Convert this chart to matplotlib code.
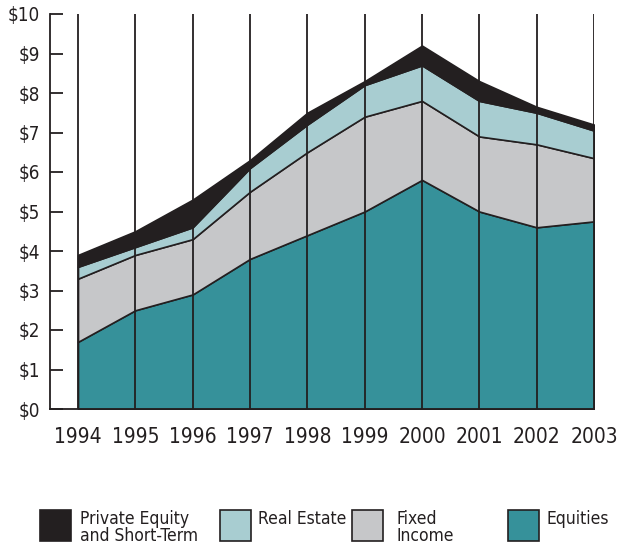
import matplotlib
matplotlib.use("Agg")
import matplotlib.pyplot as plt
from matplotlib.patches import Rectangle
import numpy as np

plt.rcParams['font.family'] = ['DejaVu Sans']
plt.rcParams['font.stretch'] = 'condensed'

years = [1994, 1995, 1996, 1997, 1998, 1999, 2000, 2001, 2002, 2003]
equities = [1.7, 2.5, 2.9, 3.8, 4.4, 5.0, 5.8, 5.0, 4.6, 4.75]
fixed_income = [1.6, 1.4, 1.4, 1.7, 2.1, 2.4, 2.0, 1.9, 2.1, 1.6]
real_estate = [0.3, 0.2, 0.3, 0.6, 0.7, 0.8, 0.9, 0.9, 0.8, 0.7]
private_equity = [0.3, 0.4, 0.7, 0.2, 0.3, 0.1, 0.5, 0.5, 0.15, 0.15]

labels = ["Private Equity\nand Short-Term", "Real Estate", "Fixed\nIncome", "Equities"]
colors = ["#231f20", "#a8cdd1", "#c6c7c9", "#36919a"]
yticks = list(range(0, 11))
ytick_labels = ["\\$%d" % v for v in yticks]

W, H = 634, 546
fig = plt.figure(figsize=(W / 100, H / 100), dpi=100)
ax = fig.add_axes([50 / W, 1 - 409 / H, (594 - 50) / W, (409 - 14) / H])

ink = "#231f20"
ax.stackplot(years, equities, fixed_income, real_estate, private_equity,
             colors=colors[::-1], edgecolor=ink, linewidth=1.2, zorder=2)
ax.vlines(years, 0, 10, color=ink, linewidth=1.3, zorder=3)

ax.set_xlim(1994 - 28 / 57.33, 2003)
ax.set_ylim(0, 10)
ax.set_xticks(years)
ax.set_xticklabels([str(y) for y in years], fontsize=15, color=ink)
ax.set_yticks(yticks)
ax.set_yticklabels(ytick_labels, fontsize=13.5, color=ink)
ax.tick_params(axis='x', length=0, pad=13)
ax.tick_params(axis='y', direction='in', length=9.5, width=1.3, color=ink, pad=7)
for s in ['top', 'right']:
    ax.spines[s].set_visible(False)
for s in ['left', 'bottom']:
    ax.spines[s].set_color(ink)
    ax.spines[s].set_linewidth(1.3)

# legend drawn by hand
box_x = [40, 220, 352, 508]
text_x = [80, 258, 396, 547]
for lab, col, bx, tx in zip(labels, colors, box_x, text_x):
    fig.add_artist(Rectangle((bx / W, 1 - 541 / H), 31 / W, 31 / H,
                             facecolor=col, edgecolor=ink, linewidth=1.2,
                             transform=fig.transFigure))
    fig.text(tx / W, 1 - 510 / H, lab, fontsize=12.5, color=ink, va='top',
             ha='left', linespacing=0.95)

fig.savefig("out.png", dpi=100)
